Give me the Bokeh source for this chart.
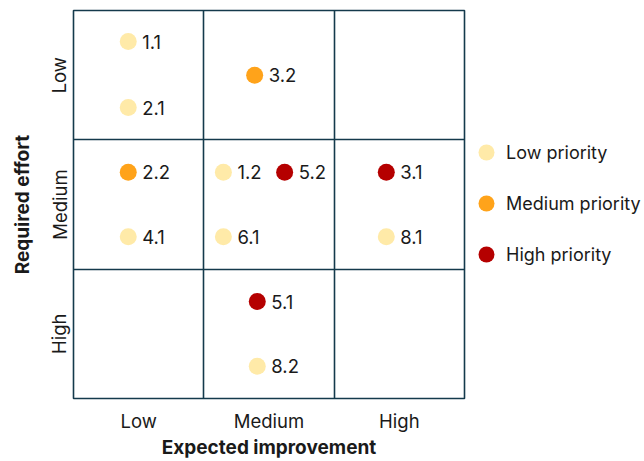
from bokeh.plotting import figure
from bokeh.layouts import row
from bokeh.models import Range1d, FixedTicker, Legend, LegendItem, ColumnDataSource
from bokeh.core.properties import value
from bokeh.embed import file_html
from bokeh.resources import INLINE

levels = ["Low", "Medium", "High"]
ids = ["1.1", "2.1", "3.2", "2.2", "4.1", "1.2", "5.2", "6.1", "3.1", "8.1", "5.1", "8.2"]
improvement = [0.42, 0.42, 1.39, 0.42, 0.42, 1.15, 1.62, 1.15, 2.40, 2.40, 1.41, 1.41]
# effort position: 3 = top of "Low" row, 0 = bottom of "High" row
effort = [2.76, 2.25, 2.50, 1.75, 1.25, 1.75, 1.75, 1.25, 1.75, 1.25, 0.75, 0.25]
priority = ["Low", "Low", "Medium", "Medium", "Low", "Low", "High", "Low", "High", "Low", "High", "Low"]
priority_keys = ["Low", "Medium", "High"]
priority_names = ["Low priority", "Medium priority", "High priority"]
priority_colors = {"Low": "#FFEAA8", "Medium": "#FFA31A", "High": "#B50000"}

FONT = "Inter"
GRID = "#143A4C"
TXT = "#1a1a1a"

p = figure(width=466, height=461, x_range=Range1d(0, 3), y_range=Range1d(0, 3),
           output_backend="svg", toolbar_location=None,
           min_border_left=73, min_border_right=2, min_border_top=10, min_border_bottom=63)
p.background_fill_color = "white"
p.border_fill_color = "white"
p.outline_line_color = GRID
p.outline_line_width = 1.6

p.xgrid.ticker = FixedTicker(ticks=[1, 2])
p.ygrid.ticker = FixedTicker(ticks=[1, 2])
for g in (p.xgrid, p.ygrid):
    g.grid_line_color = GRID
    g.grid_line_width = 1.6

p.xaxis.ticker = FixedTicker(ticks=[0.5, 1.5, 2.5])
p.xaxis.major_label_overrides = {0.5: levels[0], 1.5: levels[1], 2.5: levels[2]}
p.yaxis.ticker = FixedTicker(ticks=[0.5, 1.5, 2.5])
p.yaxis.major_label_overrides = {2.5: levels[0], 1.5: levels[1], 0.5: levels[2]}
p.yaxis.major_label_orientation = "vertical"
p.xaxis.axis_label = "Expected improvement"
p.yaxis.axis_label = "Required effort"
for ax in (p.xaxis, p.yaxis):
    ax.axis_line_color = None
    ax.major_tick_line_color = None
    ax.minor_tick_line_color = None
    ax.major_tick_in = 0
    ax.major_tick_out = 0
    ax.major_label_text_font = FONT
    ax.major_label_text_font_size = "18.5px"
    ax.major_label_text_color = TXT
    ax.axis_label_text_font = FONT
    ax.axis_label_text_font_size = "19px"
    ax.axis_label_text_font_style = "bold"
    ax.axis_label_text_color = TXT
p.xaxis.major_label_standoff = 11
p.xaxis.axis_label_standoff = 1
p.yaxis.major_label_standoff = 3
p.yaxis.axis_label_standoff = 12

sources = {}
for key in priority_keys:
    idx = [i for i, pr in enumerate(priority) if pr == key]
    src = ColumnDataSource(dict(x=[improvement[i] for i in idx],
                                y=[effort[i] for i in idx],
                                label=[ids[i] for i in idx]))
    sources[key] = src
    p.scatter("x", "y", source=src, size=17, marker="circle",
              fill_color=priority_colors[key], line_color=None)
    p.text("x", "y", text="label", source=src, x_offset=14, text_baseline="middle",
           text_align="left", text_font=value(FONT), text_font_size="18.5px",
           text_color=TXT)

# legend panel (its ranges lie away from the data, so only the legend shows)
lp = figure(width=178, height=461, x_range=Range1d(10, 11), y_range=Range1d(10, 11),
            output_backend="svg", toolbar_location=None,
            min_border_left=0, min_border_right=0, min_border_top=10, min_border_bottom=63)
lp.axis.visible = False
lp.grid.visible = False
lp.outline_line_color = None
lp.background_fill_color = "white"
lp.border_fill_color = "white"
items = []
for name, key in zip(priority_names, priority_keys):
    r = lp.scatter("x", "y", source=sources[key], size=17, marker="circle",
                   fill_color=priority_colors[key], line_color=None)
    items.append(LegendItem(label=name, renderers=[r]))
legend = Legend(items=items, location=(0, 123), orientation="vertical",
                glyph_width=40, glyph_height=42, label_height=42, spacing=9,
                label_standoff=0, padding=0, margin=0,
                border_line_color=None, background_fill_alpha=0,
                label_text_font=FONT, label_text_font_size="18px",
                label_text_color=TXT, label_text_baseline="middle")
lp.add_layout(legend)

layout = row(p, lp)
open("out.html", "w").write(file_html(layout, INLINE))
